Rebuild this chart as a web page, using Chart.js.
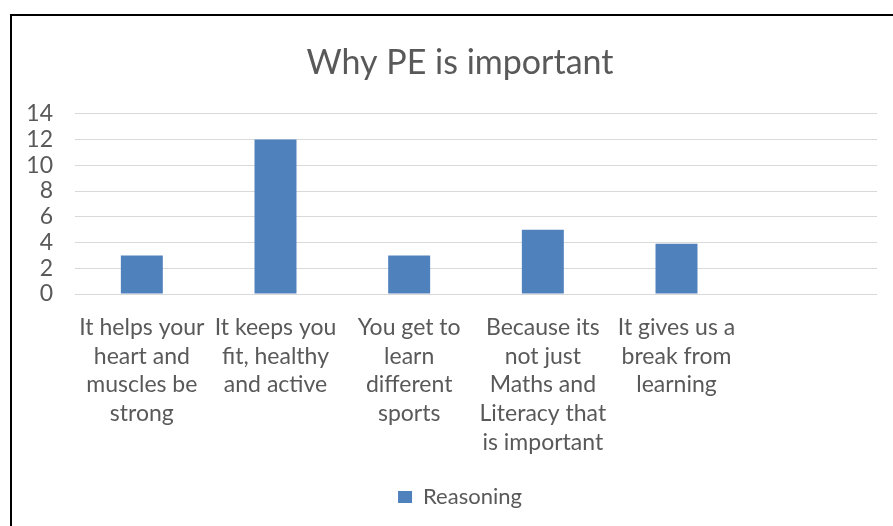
<!DOCTYPE html>
<html>
<head>
<meta charset="utf-8">
<script src="https://cdn.jsdelivr.net/npm/chart.js@4.4.0/dist/chart.umd.min.js"></script>
<style>
  html, body { margin: 0; padding: 0; background: #ffffff; overflow: hidden; }
  #wrap { position: absolute; left: 0; top: 0; width: 893px; height: 526px; }
</style>
</head>
<body>
<div id="wrap"><canvas id="c" width="893" height="526"></canvas></div>
<script>
const chartTitle = "Why PE is important";
const seriesName = "Reasoning";
const categories = [
  ["It helps your", "heart and", "muscles be", "strong"],
  ["It keeps you", "fit, healthy", "and active"],
  ["You get to", "learn", "different", "sports"],
  ["Because its", "not just", "Maths and", "Literacy that", "is important"],
  ["It gives us a", "break from", "learning"],
  ""
];
const values = [3, 12, 3, 5, 3.9, null];
const yMin = 0;
const yMax = 14;
const yStep = 2;

const FONT = "Lato, 'Open Sans', sans-serif";
const TEXT = "#595959";
const GRID = "#d9d9d9";
const BAR = "#4f81bd";

const framePlugin = {
  id: 'frame',
  afterLayout(chart) {
    // the original chart frame is wider than the visible crop: centre title/legend on it
    const shift = 21.5;
    if (chart.titleBlock) { chart.titleBlock.left += shift; chart.titleBlock.right += shift; }
    if (chart.legend) { chart.legend.left += shift; chart.legend.right += shift; }
  },
  afterDraw(chart) {
    const ctx = chart.ctx;
    ctx.save();
    ctx.strokeStyle = '#000000';
    ctx.lineWidth = 2;
    ctx.beginPath();
    ctx.moveTo(11, 526);
    ctx.lineTo(11, 15);
    ctx.lineTo(893, 15);
    ctx.stroke();
    ctx.restore();
  }
};

new Chart(document.getElementById('c'), {
  type: 'bar',
  data: {
    labels: categories,
    datasets: [{
      label: seriesName,
      data: values,
      backgroundColor: BAR,
      borderWidth: 0,
      categoryPercentage: 1.0,
      barPercentage: 0.314
    }]
  },
  options: {
    responsive: false,
    animation: false,
    devicePixelRatio: 1,
    layout: { padding: { left: 0, right: 16, top: 0, bottom: 8 } },
    plugins: {
      title: {
        display: true,
        text: chartTitle,
        color: TEXT,
        font: { family: FONT, size: 34, weight: 'normal', lineHeight: 1.2 },
        padding: { top: 43, bottom: 30 }
      },
      legend: {
        display: true,
        position: 'bottom',
        labels: {
          color: TEXT,
          boxWidth: 14,
          boxHeight: 12,
          padding: 10,
          font: { family: FONT, size: 22 }
        }
      },
      tooltip: { enabled: false }
    },
    scales: {
      x: {
        grid: { display: false, drawTicks: false },
        border: { display: false },
        ticks: {
          color: TEXT,
          font: { family: FONT, size: 23, lineHeight: 1.25 },
          padding: 19,
          maxRotation: 0,
          minRotation: 0,
          autoSkip: false
        },
        afterFit(scale) { scale.height = 182; }
      },
      y: {
        min: yMin,
        max: yMax,
        grid: { color: GRID, lineWidth: 1, drawTicks: false },
        border: { display: false },
        ticks: {
          stepSize: yStep,
          autoSkip: false,
          color: TEXT,
          font: { family: FONT, size: 23 },
          padding: 22
        },
        afterFit(scale) { scale.width = 75; }
      }
    }
  },
  plugins: [framePlugin]
});
</script>
</body>
</html>
